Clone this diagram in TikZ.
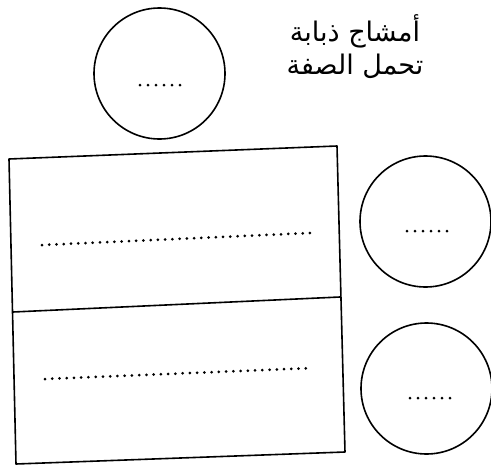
\documentclass[tikz,border=0pt]{standalone}
\usepackage{fontspec}
\newfontfamily\arabicfont[Script=Arabic]{DejaVu Sans}
\TeXXeTstate=1
\begin{document}
\begin{tikzpicture}[x=1pt,y=-1pt,
  ring/.style={circle,draw,line width=1.6pt,minimum size=131pt,inner sep=0pt},
  frame/.style={draw,line width=1.6pt,line join=round},
  dotrow/.style={line width=3pt,line cap=round,dash pattern=on 0pt off 7.25pt},
  shortdots/.style={line width=3pt,line cap=round,dash pattern=on 0pt off 8pt},
  label/.style={font=\arabicfont\fontsize{27}{33}\selectfont,align=center,inner sep=0pt}]
\useasboundingbox (0,0) rectangle (491,466);
% circles
\node[ring] (c1) at (159.5,73.5) {};
\node[ring] (c2) at (425.5,221.5) {};
\node[ring] (c3) at (426.5,388.5) {};
% dots in circles
\coordinate (d1a) at (140,85); \coordinate (d1b) at (180,85);
\coordinate (d2a) at (407,231); \coordinate (d2b) at (447,231);
\coordinate (d3a) at (410,398); \coordinate (d3b) at (450,398);
\draw[shortdots] (d1a) -- (d1b);
\draw[shortdots] (d2a) -- (d2b);
\draw[shortdots] (d3a) -- (d3b);
% label
\node[label] (t) at (355,47) {\beginR أمشاج ذبابة\endR\\\beginR تحمل الصفة\endR};
% rectangle (slightly rotated)
\coordinate (tl) at (9,159);
\coordinate (tr) at (337,146);
\coordinate (ml) at (13,312);
\coordinate (mr) at (340,297);
\coordinate (bl) at (16,464);
\coordinate (br) at (345,452);
\draw[frame] (tl) -- (tr) -- (br) -- (bl) -- cycle;
\draw[frame] (ml) -- (mr);
% dotted rows
\coordinate (r1a) at (42,245); \coordinate (r1b) at (310,233);
\coordinate (r2a) at (45,379); \coordinate (r2b) at (313,368);
\draw[dotrow] (r1a) -- (r1b);
\draw[dotrow] (r2a) -- (r2b);
\end{tikzpicture}
\end{document}
